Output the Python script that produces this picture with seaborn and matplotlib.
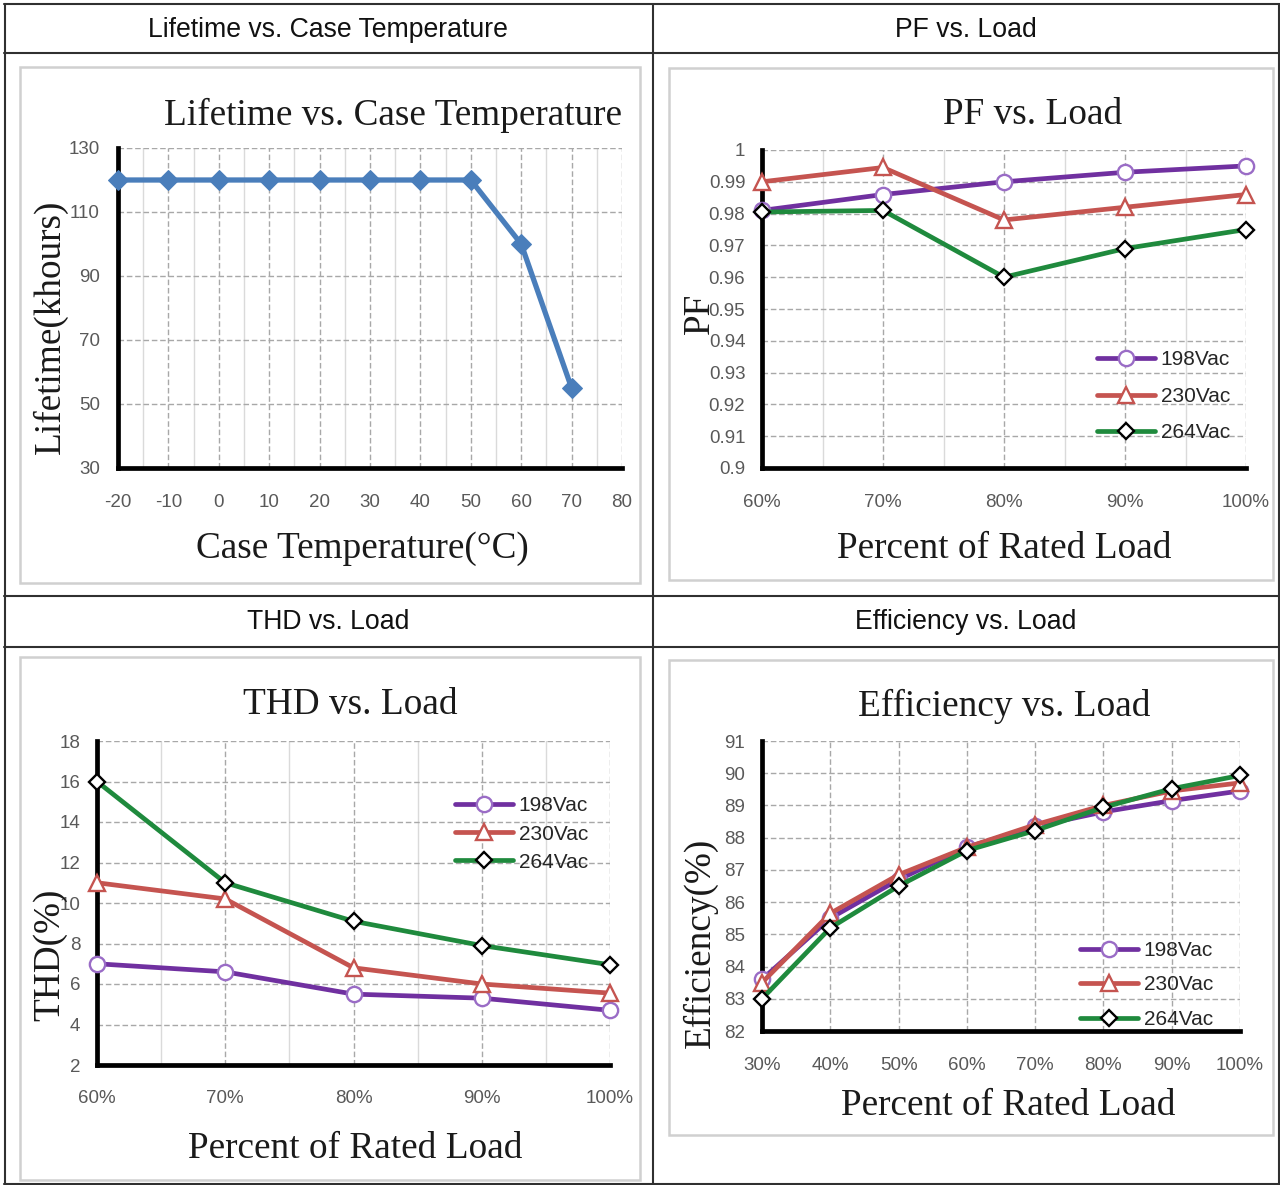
import numpy as np
import pandas as pd
import matplotlib
matplotlib.use("Agg")
import matplotlib.pyplot as plt
import seaborn as sns
from matplotlib.ticker import FixedLocator
from matplotlib.lines import Line2D
from matplotlib.patches import Rectangle

# ---------------- data ----------------
header_titles = ["Lifetime vs. Case Temperature", "PF vs. Load", "THD vs. Load", "Efficiency vs. Load"]
series_names = ["198Vac", "230Vac", "264Vac"]

case_temp = [-20, -10, 0, 10, 20, 30, 40, 50, 60, 70]
lifetime_khours = [120, 120, 120, 120, 120, 120, 120, 120, 100, 55]

pf_load = [60, 70, 80, 90, 100]
pf_198 = [0.981, 0.986, 0.990, 0.993, 0.995]
pf_230 = [0.990, 0.9945, 0.978, 0.982, 0.986]
pf_264 = [0.9805, 0.981, 0.960, 0.969, 0.975]

thd_load = [60, 70, 80, 90, 100]
thd_198 = [7.0, 6.6, 5.5, 5.3, 4.7]
thd_230 = [11.0, 10.2, 6.8, 6.0, 5.55]
thd_264 = [16.0, 11.0, 9.1, 7.9, 6.95]

eff_load = [30, 40, 50, 60, 70, 80, 90, 100]
eff_198 = [83.6, 85.5, 86.7, 87.7, 88.35, 88.8, 89.15, 89.45]
eff_230 = [83.5, 85.65, 86.85, 87.7, 88.4, 89.0, 89.45, 89.7]
eff_264 = [83.0, 85.2, 86.5, 87.6, 88.22, 88.94, 89.52, 89.93]

# ---------------- style ----------------
sns.set_style("white")
SERIF = ['Liberation Serif', 'DejaVu Serif']
SANS = ['Liberation Sans', 'DejaVu Sans']
plt.rcParams['font.family'] = SANS
plt.rcParams['axes.unicode_minus'] = False

W, H = 1280, 1185
fig = plt.figure(figsize=(W / 100, H / 100), dpi=100)


def fx(x):
    return x / W


def fy(y):
    return 1 - y / H


def fbox(x0, y0, x1, y1):
    return [x0 / W, 1 - y1 / H, (x1 - x0) / W, (y1 - y0) / H]


# ---------------- table ----------------
TC = '#303030'
for (x0, y0, x1, y1) in [(4, 4, 1280, 4), (4, 53, 1280, 53), (4, 596, 1280, 596),
                         (4, 647, 1280, 647), (4, 1184, 1280, 1184),
                         (4.5, 4, 4.5, 1185), (653, 4, 653, 1185), (1279, 4, 1279, 1185)]:
    fig.add_artist(Line2D([fx(x0), fx(x1)], [fy(y0), fy(y1)], transform=fig.transFigure,
                          color=TC, lw=1.5))

for t, (cx, cy) in zip(header_titles, [(328, 30), (966, 30), (328, 622), (966, 622)]):
    fig.text(fx(cx), fy(cy), t, ha='center', va='center', fontsize=19.2,
             family=SANS, color='#111111')

# chart frames
for (x0, y0, x1, y1) in [(20, 67, 640, 583), (669, 68, 1273, 580),
                         (20, 657, 640, 1180), (669, 660, 1273, 1135)]:
    fig.add_artist(Rectangle((fx(x0), fy(y1)), fx(x1) - fx(x0), fy(y0) - fy(y1),
                             transform=fig.transFigure, fill=False,
                             edgecolor='#d0d0d0', lw=1.8))

TICKC = '#595959'
TXT = '#1a1a1a'
SERIF_SIZE = 26.8


def make_axes(px):
    x0, y0, x1, y1 = px
    ax = fig.add_axes(fbox(x0, y0, x1, y1))

    def axc(p):
        return ((p[0] - x0) / (x1 - x0), (y1 - p[1]) / (y1 - y0))
    return ax, axc


def finish(ax, axc, xlim, xmajor, xminor, ylim, ymajor, title, title_px, xlabel,
           xlabel_px, ylabel, ylabel_px, xticklabels=None, yticklabels=None,
           xpad=19, ypad=12):
    ax.set_xlim(*xlim)
    ax.set_ylim(*ylim)
    ax.xaxis.set_major_locator(FixedLocator(xmajor))
    if xminor is not None:
        ax.xaxis.set_minor_locator(FixedLocator(xminor))
    ax.yaxis.set_major_locator(FixedLocator(ymajor))
    if xticklabels is not None:
        ax.set_xticklabels(xticklabels)
    if yticklabels is not None:
        ax.set_yticklabels(yticklabels)
    ax.grid(which='major', color='#a8a8a8', linestyle=(0, (4, 2)), lw=1.0)
    if xminor is not None:
        ax.grid(which='minor', axis='x', color='#dadada', linestyle='-', lw=1.0)
    ax.set_axisbelow(True)
    ax.tick_params(which='both', length=0)
    ax.tick_params(axis='x', pad=xpad, labelsize=13.5, labelcolor=TICKC)
    ax.tick_params(axis='y', pad=ypad, labelsize=13.5, labelcolor=TICKC)
    for s in ['top', 'right']:
        ax.spines[s].set_visible(False)
    for s in ['left', 'bottom']:
        ax.spines[s].set_color('black')
        ax.spines[s].set_linewidth(3.4)
        ax.spines[s].set_zorder(2.6)
    tx, ty = axc(title_px)
    ax.set_title(title, x=tx, y=ty, va='center', ha='center', family=SERIF,
                 fontsize=SERIF_SIZE, color=TXT, pad=0)
    ax.set_xlabel(xlabel, family=SERIF, fontsize=SERIF_SIZE, color=TXT)
    ax.xaxis.set_label_coords(*axc(xlabel_px))
    ax.xaxis.label.set_va('center')
    ax.set_ylabel(ylabel, family=SERIF, fontsize=SERIF_SIZE, color=TXT)
    ax.yaxis.set_label_coords(*axc(ylabel_px))
    ax.yaxis.label.set_rotation_mode('default')
    ax.yaxis.label.set_va('center')
    ax.yaxis.label.set_ha('center')


SERIES_STYLE = [
    dict(color='#7030a0', marker='o', mec='#9a6cc6', ms=11),
    dict(color='#c55450', marker='^', mec='#c55450', ms=11),
    dict(color='#1f8a3d', marker='D', mec='#000000', ms=8),
]


def draw_series(ax, x, ys):
    for name, y, st in zip(series_names, ys, SERIES_STYLE):
        df = pd.DataFrame({'x': x, 'y': y})
        sns.lineplot(data=df, x='x', y='y', ax=ax, color=st['color'], lw=3.4,
                     marker=st['marker'], markersize=st['ms'], markerfacecolor='white',
                     markeredgecolor=st['mec'], markeredgewidth=1.7, label=name,
                     errorbar=None, clip_on=False, zorder=3)


def add_legend(ax, hx, hy, spacing):
    ax.legend(loc='center left', bbox_to_anchor=(fx(hx), fy(hy)),
              bbox_transform=fig.transFigure, frameon=False,
              prop={'family': SANS, 'size': 15}, handlelength=2.8,
              handletextpad=0.25, borderpad=0, borderaxespad=0,
              labelspacing=spacing, labelcolor='#262626')


# ---------------- chart 1: lifetime ----------------
ax, axc = make_axes((118, 148, 622, 468))
df1 = pd.DataFrame({'temp': case_temp, 'life': lifetime_khours})
sns.lineplot(data=df1, x='temp', y='life', ax=ax, color='#4a7ebb', lw=3.8, marker='D',
             markersize=10, markerfacecolor='#4a7ebb', markeredgecolor='#4a7ebb',
             errorbar=None, clip_on=False, zorder=3)
finish(ax, axc, (-20, 80), list(range(-20, 81, 10)), list(range(-15, 80, 10)),
       (30, 130), list(range(30, 131, 20)), header_titles[0], (393, 115),
       "Case Temperature(\u00b0C)", (362, 549), "Lifetime(khours)", (50, 327),
       xpad=19, ypad=13)

# ---------------- chart 2: PF ----------------
ax, axc = make_axes((762, 150, 1246, 468))
draw_series(ax, pf_load, [pf_198, pf_230, pf_264])
pf_ticks = [round(0.9 + 0.01 * i, 2) for i in range(11)]
finish(ax, axc, (60, 100), pf_load, [65, 75, 85, 95], (0.9, 1.0), pf_ticks,
       header_titles[1], (1033, 115), "Percent of Rated Load", (1004, 549),
       "PF", (700, 313), xticklabels=[f"{v}%" for v in pf_load],
       yticklabels=[f"{v:g}" for v in pf_ticks], xpad=19, ypad=12)
add_legend(ax, 1097, 396.5, 0.84)

# ---------------- chart 3: THD ----------------
ax, axc = make_axes((97, 741, 610, 1065))
draw_series(ax, thd_load, [thd_198, thd_230, thd_264])
finish(ax, axc, (60, 100), thd_load, [65, 75, 85, 95], (2, 18), list(range(2, 19, 2)),
       header_titles[2], (350, 705), "Percent of Rated Load", (355, 1149),
       "THD(%)", (50, 955), xticklabels=[f"{v}%" for v in thd_load], xpad=18, ypad=12)
add_legend(ax, 455, 834, 0.44)

# ---------------- chart 4: Efficiency ----------------
ax, axc = make_axes((762, 741, 1240, 1031))
draw_series(ax, eff_load, [eff_198, eff_230, eff_264])
finish(ax, axc, (30, 100), eff_load, None, (82, 91), list(range(82, 92)),
       header_titles[3], (1004, 706), "Percent of Rated Load", (1008, 1106),
       "Efficiency(%)", (700, 943), xticklabels=[f"{v}%" for v in eff_load],
       xpad=18.5, ypad=12)
add_legend(ax, 1080, 985, 0.74)

fig.savefig("out.png", dpi=100, facecolor='white')
